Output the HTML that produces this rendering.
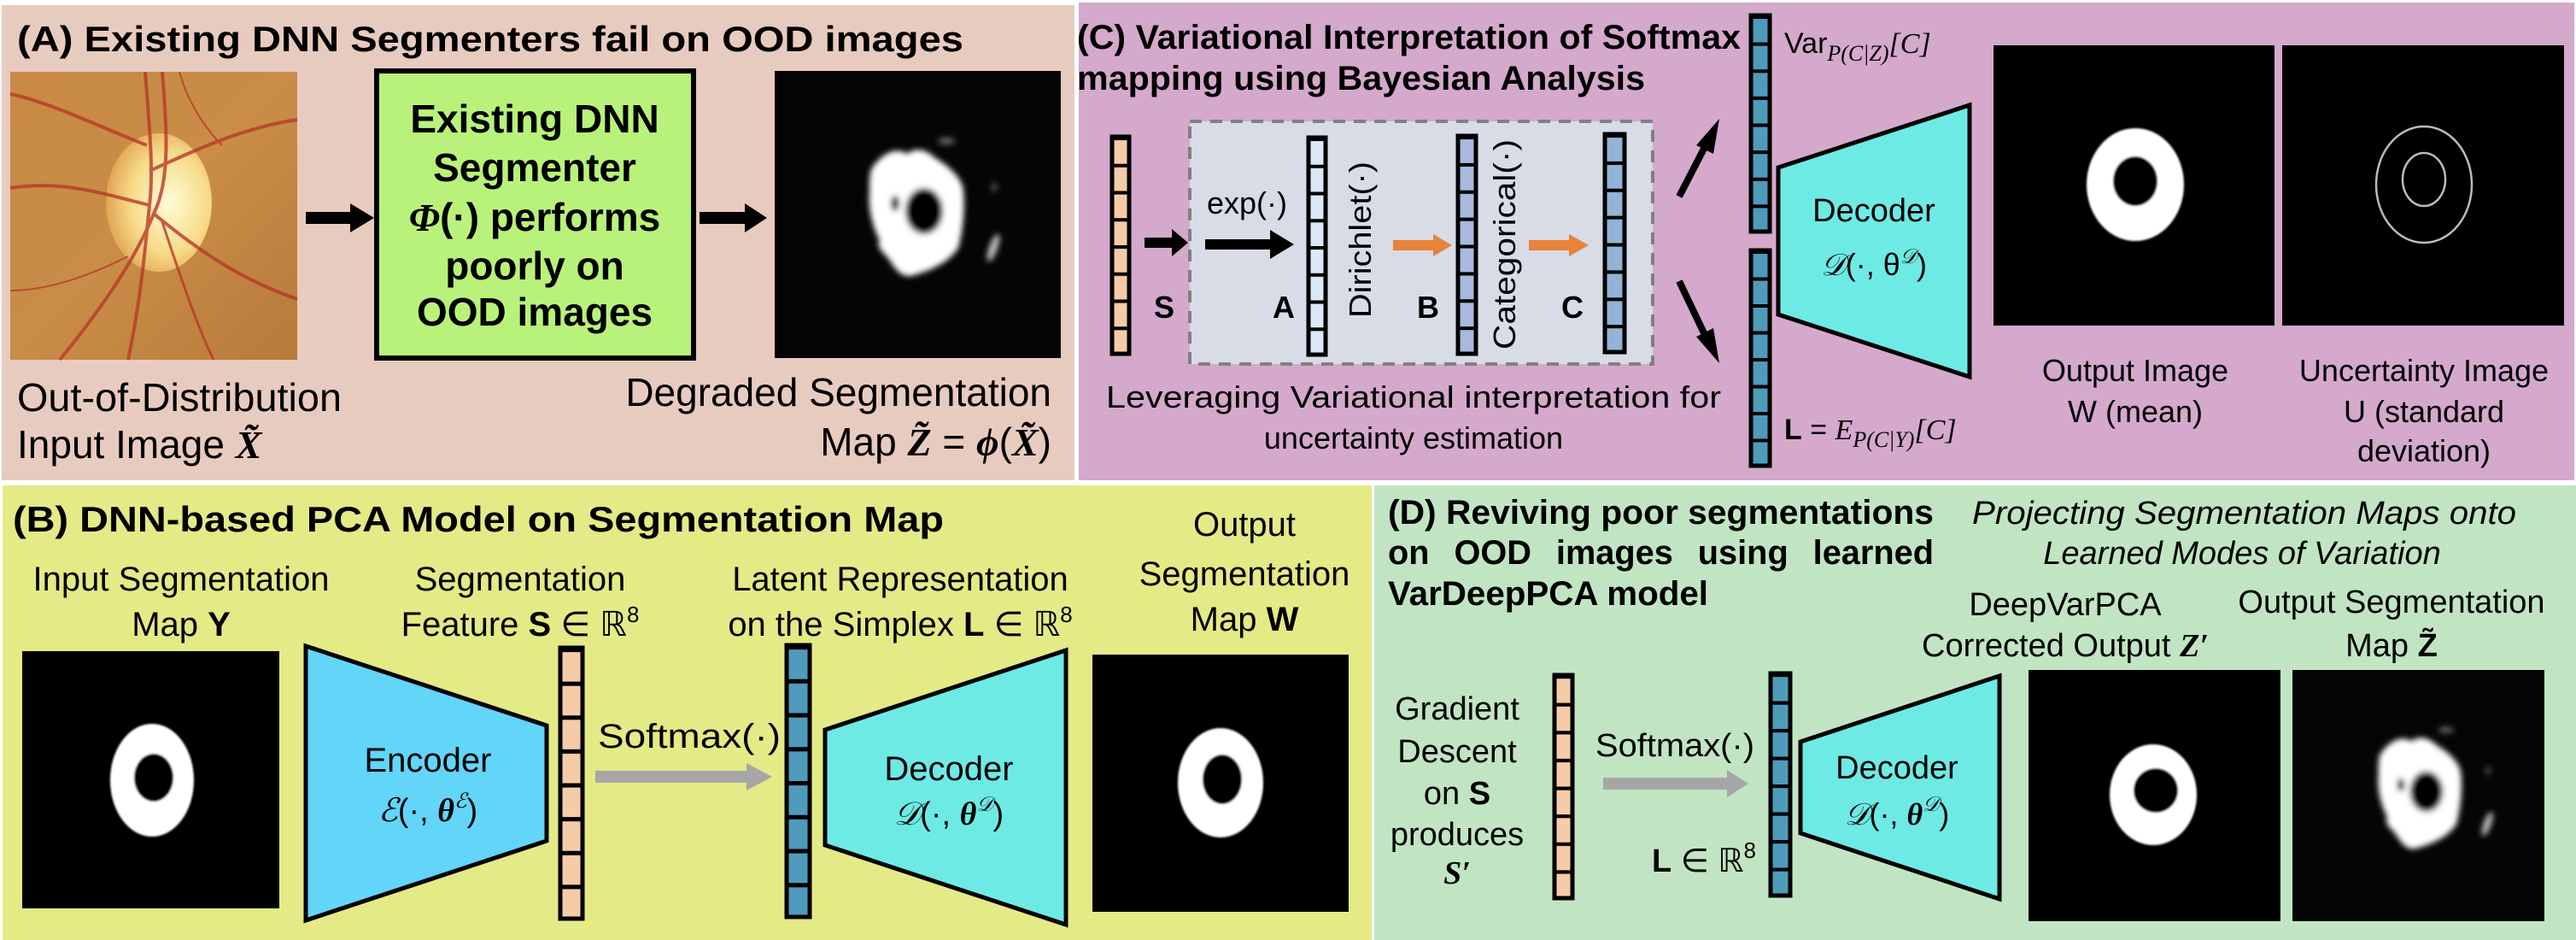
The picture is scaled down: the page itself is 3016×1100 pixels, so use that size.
<!DOCTYPE html>
<html><head><meta charset="utf-8"><style>
html,body{margin:0;padding:0;background:#fff;}
svg{display:block;}
text{font-family:"Liberation Sans",Arial,sans-serif;fill:#000;}
.m{font-family:"Liberation Serif","DejaVu Serif",serif;font-style:italic;}
.b{font-weight:bold;}
</style></head><body>
<svg width="3016" height="1100" viewBox="0 0 3016 1100" xmlns="http://www.w3.org/2000/svg">
<defs>
<pattern id="pPeach" width="1" height="0.125" patternContentUnits="objectBoundingBox"><rect width="1" height="0.125" fill="#f5cba8"/><rect width="1" height="0.016" fill="#000"/></pattern>
<pattern id="pTeal" width="1" height="0.125" patternContentUnits="objectBoundingBox"><rect width="1" height="0.125" fill="#4f9bbb"/><rect width="1" height="0.016" fill="#000"/></pattern>
<pattern id="pA" width="1" height="0.125" patternContentUnits="objectBoundingBox"><rect width="1" height="0.125" fill="#dbe8f7"/><rect width="1" height="0.016" fill="#000"/></pattern>
<pattern id="pB" width="1" height="0.125" patternContentUnits="objectBoundingBox"><rect width="1" height="0.125" fill="#aab9df"/><rect width="1" height="0.016" fill="#000"/></pattern>
<pattern id="pC" width="1" height="0.125" patternContentUnits="objectBoundingBox"><rect width="1" height="0.125" fill="#93b3d6"/><rect width="1" height="0.016" fill="#000"/></pattern>
<filter id="bl" x="-20%" y="-20%" width="140%" height="140%"><feGaussianBlur stdDeviation="3.5"/></filter>
<filter id="bl2"><feGaussianBlur stdDeviation="1"/></filter>
<radialGradient id="disc" cx="0.6" cy="0.5" r="0.6"><stop offset="0" stop-color="#fffbd8"/><stop offset="0.6" stop-color="#f7dc8a"/><stop offset="1" stop-color="#e0a552"/></radialGradient>
<linearGradient id="fund" x1="0" y1="0" x2="1" y2="1"><stop offset="0" stop-color="#c88a45"/><stop offset="0.5" stop-color="#c98d48"/><stop offset="1" stop-color="#b77a3a"/></linearGradient>
<g id="blob">
<path d="M1022,195 C1035,178 1050,172 1062,180 C1072,172 1085,175 1095,185 C1112,195 1128,210 1128,225 C1130,250 1126,275 1122,290 C1112,305 1095,315 1070,322 C1058,326 1050,318 1042,305 C1035,295 1025,290 1030,282 C1022,265 1016,245 1018,225 C1018,210 1018,200 1022,195 Z" fill="#fff"/>
<ellipse cx="1082" cy="247" rx="22" ry="27" fill="#050505"/>
<ellipse cx="1048" cy="238" rx="5" ry="9" fill="#050505"/>
<ellipse cx="1163" cy="290" rx="5" ry="17" fill="#bbb" transform="rotate(20 1163 290)"/>
<ellipse cx="1108" cy="165" rx="10" ry="4" fill="#666"/>
<ellipse cx="1164" cy="219" rx="4" ry="6" fill="#444"/>
</g>
</defs>

<rect x="2" y="6" width="1256" height="556" fill="#e8cbbf"/>
<rect x="1263" y="3" width="1751" height="559" fill="#d4a9cc"/>
<rect x="3" y="568" width="1603" height="532" fill="#e4ea86"/>
<rect x="1609" y="568" width="1407" height="532" fill="#c1e5c3"/>

<!-- Panel A -->
<text x="20" y="60" font-size="42" class="b" textLength="1108" lengthAdjust="spacingAndGlyphs">(A) Existing DNN Segmenters fail on OOD images</text>
<rect x="12" y="84" width="336" height="337" fill="url(#fund)"/>
<ellipse cx="186" cy="237" rx="62" ry="81" fill="url(#disc)"/>
<g stroke="#b8392a" stroke-width="4" fill="none" opacity="0.8">
<path d="M170,84 C175,150 180,200 175,240 C170,290 165,350 150,421"/>
<path d="M190,84 C195,150 200,210 180,250 C160,300 120,360 70,421"/>
<path d="M175,240 C130,230 80,210 12,220"/>
<path d="M180,250 C240,300 290,330 348,350"/>
<path d="M175,200 C220,180 280,150 348,140"/>
<path d="M172,170 C120,150 60,120 12,110"/>
<path d="M150,300 C110,320 60,340 12,340" stroke-width="2"/>
<path d="M210,84 C220,120 240,150 260,170" stroke-width="2"/>
<path d="M190,260 C210,320 230,380 250,421" stroke-width="3"/>
</g>
<polygon points="358,248 410,248 410,238 438,255 410,272 410,262 358,262" fill="#000"/>
<rect x="441" y="83" width="371" height="336" fill="#b9f27a" stroke="#000" stroke-width="6"/>
<g font-size="46" class="b" text-anchor="middle">
<text x="626" y="155" class="b">Existing DNN</text>
<text x="626" y="212" class="b">Segmenter</text>
<text x="626" y="270" class="b"><tspan class="m b">Φ</tspan>(·) performs</text>
<text x="626" y="327" class="b">poorly on</text>
<text x="626" y="381" class="b">OOD images</text>
</g>
<polygon points="819,248 872,248 872,238 898,255 872,272 872,262 819,262" fill="#000"/>
<rect x="907" y="83" width="335" height="336" fill="#050505"/>
<g filter="url(#bl)"><use href="#blob"/></g>
<text x="20" y="481" font-size="46" textLength="380" lengthAdjust="spacingAndGlyphs">Out-of-Distribution</text>
<text x="20" y="536" font-size="46">Input Image <tspan class="m b">X̃</tspan></text>
<text x="1231" y="475" font-size="46" text-anchor="end">Degraded Segmentation</text>
<text x="1231" y="533" font-size="46" text-anchor="end">Map  <tspan class="m b">Z̃</tspan> = <tspan class="m b">ϕ</tspan>(<tspan class="m b">X̃</tspan>)</text>

<!-- Panel C -->
<text x="1261" y="57" font-size="40" class="b" textLength="777" lengthAdjust="spacingAndGlyphs">(C) Variational Interpretation of Softmax</text>
<text x="1261" y="105" font-size="40" class="b" textLength="665" lengthAdjust="spacingAndGlyphs">mapping using Bayesian Analysis</text>
<rect x="1302" y="160" width="20" height="254" fill="url(#pPeach)" stroke="#000" stroke-width="5"/>
<text x="1363" y="372" font-size="36" class="b" text-anchor="middle">S</text>
<polygon points="1340,278 1372,278 1372,268 1391,284 1372,300 1372,290 1340,290" fill="#000"/>
<rect x="1393" y="142" width="542" height="284" fill="#d8dce6" stroke="#808080" stroke-width="4" stroke-dasharray="14,10"/>
<text x="1413" y="250" font-size="36">exp(·)</text>
<polygon points="1411,280 1487,280 1487,269 1515,286 1487,303 1487,292 1411,292" fill="#000"/>
<rect x="1532" y="161" width="20" height="254" fill="url(#pA)" stroke="#000" stroke-width="5"/>
<text x="1503" y="372" font-size="36" class="b" text-anchor="middle">A</text>
<text transform="translate(1605,372) rotate(-90)" font-size="36" textLength="183" lengthAdjust="spacingAndGlyphs">Dirichlet(·)</text>
<polygon points="1631,281 1678,281 1678,274 1700,287 1678,300 1678,293 1631,293" fill="#e8833a"/>
<rect x="1707" y="159" width="21" height="255" fill="url(#pB)" stroke="#000" stroke-width="5"/>
<text x="1672" y="372" font-size="36" class="b" text-anchor="middle">B</text>
<text transform="translate(1774,409) rotate(-90)" font-size="36" textLength="246" lengthAdjust="spacingAndGlyphs">Categorical(·)</text>
<polygon points="1790,281 1837,281 1837,274 1860,287 1837,300 1837,293 1790,293" fill="#e8833a"/>
<rect x="1879" y="157" width="23" height="255" fill="url(#pC)" stroke="#000" stroke-width="5"/>
<text x="1841" y="372" font-size="36" class="b" text-anchor="middle">C</text>
<line x1="1966" y1="230" x2="1997" y2="170" stroke="#000" stroke-width="8"/>
<polygon points="2013,139 2006,180 1986,170" fill="#000" transform="translate(0,0)"/>
<line x1="1966" y1="329" x2="1997" y2="394" stroke="#000" stroke-width="8"/>
<polygon points="2013,425 2006,384 1986,394" fill="#000"/>
<text x="1655" y="477" font-size="36" text-anchor="middle" textLength="720" lengthAdjust="spacingAndGlyphs">Leveraging Variational interpretation for</text>
<text x="1655" y="525" font-size="36" text-anchor="middle">uncertainty estimation</text>
<rect x="2050" y="18" width="22" height="253" fill="url(#pTeal)" stroke="#000" stroke-width="5"/>
<rect x="2050" y="293" width="22" height="252" fill="url(#pTeal)" stroke="#000" stroke-width="5"/>
<text x="2089" y="62" font-size="34">Var<tspan class="m" font-size="26" dy="9">P(C|Z)</tspan><tspan class="m" font-size="34" dy="-9">[C]</tspan></text>
<text x="2089" y="514" font-size="34"><tspan class="b">L</tspan> =  <tspan class="m">E</tspan><tspan class="m" font-size="26" dy="9">P(C|Y)</tspan><tspan class="m" dy="-9">[C]</tspan></text>
<polygon points="2082,196 2306,123 2306,441 2082,368" fill="#6eeae5" stroke="#000" stroke-width="5"/>
<text x="2194" y="259" font-size="38" text-anchor="middle">Decoder</text>
<text x="2194" y="322" font-size="36" text-anchor="middle"><tspan class="m">𝒟</tspan>(·, θ<tspan font-size="24" dy="-14" class="m">𝒟</tspan><tspan dy="14">)</tspan></text>
<rect x="2334" y="53" width="329" height="328" fill="#000"/>
<g filter="url(#bl2)"><ellipse cx="2500" cy="216" rx="57" ry="66" fill="#fff"/><ellipse cx="2500" cy="212" rx="26" ry="29" fill="#000"/></g>
<rect x="2672" y="53" width="330" height="328" fill="#000"/>
<g fill="none" stroke="#bbb" stroke-width="2.5"><ellipse cx="2838" cy="216" rx="56" ry="68"/><ellipse cx="2838" cy="210" rx="25" ry="31"/></g>
<text x="2500" y="446" font-size="36" text-anchor="middle">Output Image</text>
<text x="2500" y="494" font-size="36" text-anchor="middle">W (mean)</text>
<text x="2838" y="446" font-size="36" text-anchor="middle">Uncertainty Image</text>
<text x="2838" y="494" font-size="36" text-anchor="middle">U (standard</text>
<text x="2838" y="540" font-size="36" text-anchor="middle">deviation)</text>

<!-- Panel B -->
<text x="15" y="622" font-size="42" class="b" textLength="1090" lengthAdjust="spacingAndGlyphs">(B) DNN-based PCA Model on Segmentation Map</text>
<g font-size="40" text-anchor="middle">
<text x="1457" y="627">Output</text>
<text x="212" y="691">Input Segmentation</text>
<text x="212" y="744">Map <tspan class="b">Y</tspan></text>
<text x="609" y="691">Segmentation</text>
<text x="609" y="744">Feature <tspan class="b">S</tspan> ∈ ℝ<tspan font-size="26" dy="-16">8</tspan></text>
<text x="1054" y="691">Latent Representation</text>
<text x="1054" y="744">on the Simplex <tspan class="b">L</tspan> ∈ ℝ<tspan font-size="26" dy="-16">8</tspan></text>
<text x="1457" y="685">Segmentation</text>
<text x="1457" y="738">Map <tspan class="b">W</tspan></text>
</g>
<rect x="26" y="762" width="301" height="301" fill="#000"/>
<g filter="url(#bl2)"><ellipse cx="178" cy="913" rx="49" ry="66" fill="#fff"/><ellipse cx="180" cy="910" rx="23" ry="28" fill="#000"/></g>
<polygon points="358,756 640,849 640,984 358,1077" fill="#62d5f8" stroke="#000" stroke-width="5"/>
<text x="501" y="903" font-size="40" text-anchor="middle">Encoder</text>
<text x="501" y="961" font-size="38" text-anchor="middle"><tspan class="m">ℰ</tspan>(·, <tspan class="m b">θ</tspan><tspan font-size="24" dy="-16" class="m">ℰ</tspan><tspan dy="16">)</tspan></text>
<rect x="656" y="758" width="26" height="317" fill="url(#pPeach)" stroke="#000" stroke-width="5"/>
<text x="700" y="875" font-size="40" textLength="214" lengthAdjust="spacingAndGlyphs">Softmax(·)</text>
<polygon points="697,902 874,902 874,893 904,909 874,925 874,916 697,916" fill="#a6a6a6"/>
<rect x="921" y="755" width="27" height="318" fill="url(#pTeal)" stroke="#000" stroke-width="5"/>
<polygon points="966,854 1248,761 1248,1082 966,989" fill="#6eeae5" stroke="#000" stroke-width="5"/>
<text x="1111" y="913" font-size="40" text-anchor="middle">Decoder</text>
<text x="1111" y="965" font-size="38" text-anchor="middle"><tspan class="m">𝒟</tspan>(·, <tspan class="m b">θ</tspan><tspan font-size="24" dy="-16" class="m">𝒟</tspan><tspan dy="16">)</tspan></text>
<rect x="1279" y="766" width="300" height="301" fill="#000"/>
<g filter="url(#bl2)"><ellipse cx="1429" cy="916" rx="50" ry="64" fill="#fff"/><ellipse cx="1431" cy="912" rx="23" ry="29" fill="#000"/></g>

<!-- Panel D -->
<text x="1625" y="613" font-size="40" class="b" textLength="639" lengthAdjust="spacingAndGlyphs">(D) Reviving poor segmentations</text>
<text x="1625" y="660" font-size="40" class="b" textLength="639" lengthAdjust="spacingAndGlyphs" word-spacing="18">on  OOD  images  using  learned</text>
<text x="1625" y="708" font-size="40" class="b" textLength="375" lengthAdjust="spacingAndGlyphs">VarDeepPCA model</text>
<text x="2309" y="613" font-size="38" font-style="italic" textLength="637" lengthAdjust="spacingAndGlyphs">Projecting Segmentation Maps onto</text>
<text x="2625" y="660" font-size="38" font-style="italic" text-anchor="middle">Learned Modes of Variation</text>
<g font-size="38" text-anchor="middle">
<text x="2418" y="720">DeepVarPCA</text>
<text x="2418" y="768">Corrected Output <tspan class="m b">Z′</tspan></text>
<text x="2800" y="717">Output Segmentation</text>
<text x="2800" y="768">Map <tspan class="b">Z̃</tspan></text>
<text x="1706" y="842">Gradient</text>
<text x="1706" y="892">Descent</text>
<text x="1706" y="941">on <tspan class="b">S</tspan></text>
<text x="1706" y="989">produces</text>
<text x="1706" y="1034" class="m b">S′</text>
</g>
<rect x="1820" y="790" width="21" height="261" fill="url(#pPeach)" stroke="#000" stroke-width="5"/>
<text x="1868" y="885" font-size="38" textLength="186" lengthAdjust="spacingAndGlyphs">Softmax(·)</text>
<polygon points="1877,910 2022,910 2022,901 2047,917 2022,933 2022,924 1877,924" fill="#a6a6a6"/>
<text x="1934" y="1020" font-size="38"><tspan class="b">L</tspan> ∈ ℝ<tspan font-size="26" dy="-16">8</tspan></text>
<rect x="2073" y="788" width="23" height="260" fill="url(#pTeal)" stroke="#000" stroke-width="5"/>
<polygon points="2108,868 2341,791 2341,1052 2108,975" fill="#6eeae5" stroke="#000" stroke-width="5"/>
<text x="2221" y="911" font-size="38" text-anchor="middle">Decoder</text>
<text x="2221" y="965" font-size="36" text-anchor="middle"><tspan class="m">𝒟</tspan>(·, <tspan class="m b">θ</tspan><tspan font-size="24" dy="-16" class="m">𝒟</tspan><tspan dy="16">)</tspan></text>
<rect x="2375" y="784" width="295" height="294" fill="#000"/>
<g filter="url(#bl2)"><ellipse cx="2521" cy="930" rx="51" ry="59" fill="#fff"/><ellipse cx="2524" cy="925" rx="26" ry="26" fill="#000"/></g>
<rect x="2684" y="784" width="295" height="294" fill="#050505"/>
<g filter="url(#bl)"><g transform="translate(2833,929) scale(0.88) translate(-1073,-250)"><use href="#blob"/></g></g>
</svg>
</body></html>
